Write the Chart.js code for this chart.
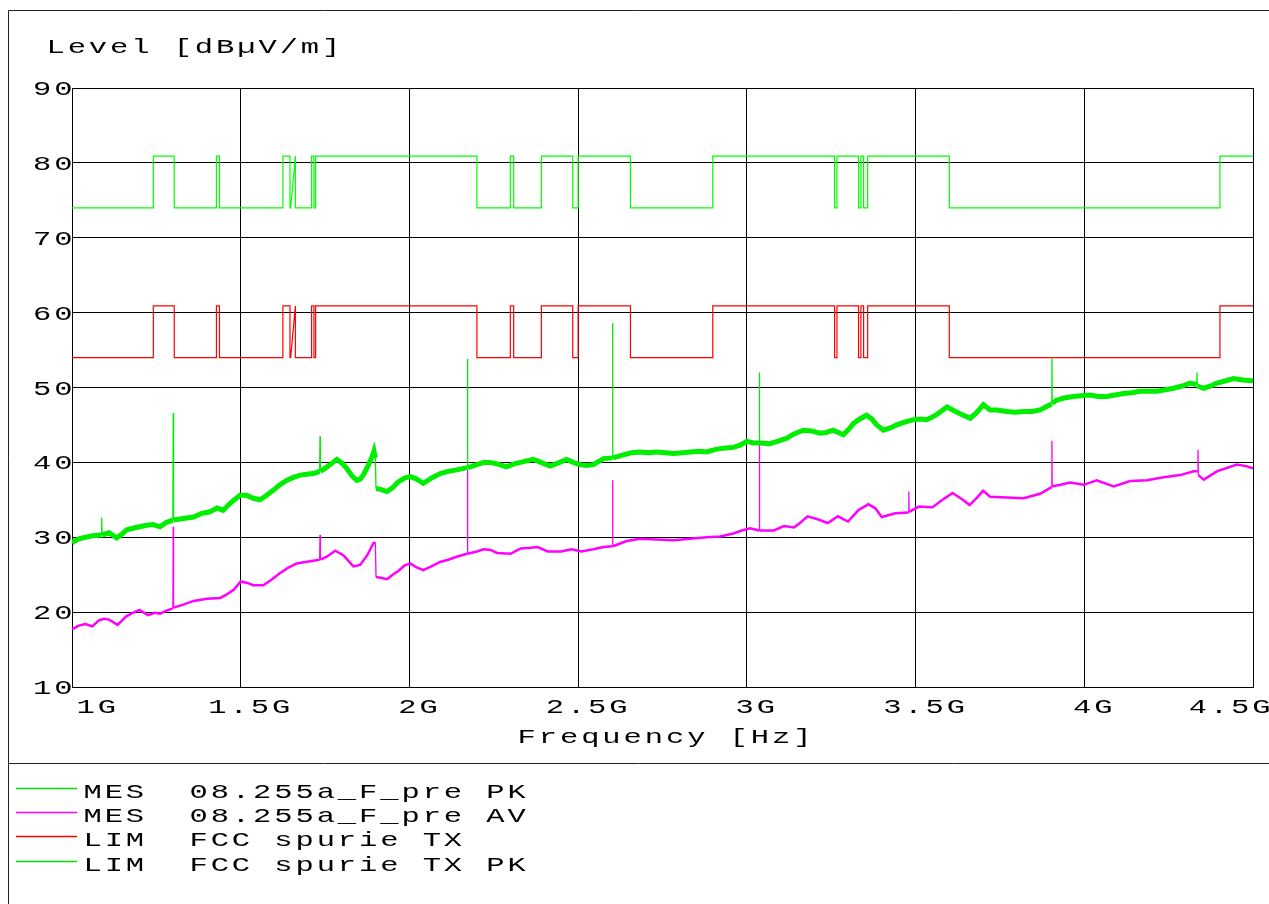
<!DOCTYPE html>
<html>
<head>
    <script src="https://cdn.jsdelivr.net/npm/chart.js"></script>
    <style>
        body { margin: 0; background: #fff; }
    </style>
</head>
<body>
    <canvas id="emiChart" width="1269" height="904"></canvas>

    <script>
        // tick labels
        const freqTickLabels = ['1G', '1.5G', '2G', '2.5G', '3G', '3.5G', '4G', '4.5G'];
        const levelTickLabels = ['10', '20', '30', '40', '50', '60', '70', '80', '90'];

        // MES PK trace (GHz / dBuV/m)
        const pkFreq = [1.000, 1.004, 1.02, 1.04, 1.06, 1.087, 1.088, 1.089, 1.11, 1.132, 1.15, 1.162, 1.19, 1.221, 1.24, 1.261, 1.28, 1.299, 1.300, 1.301,
            1.33, 1.36, 1.385, 1.409, 1.43, 1.448, 1.47, 1.498, 1.517, 1.537, 1.557, 1.577, 1.597, 1.616, 1.636, 1.656, 1.676, 1.695, 1.715, 1.734, 1.735, 1.736,
            1.75, 1.765, 1.785, 1.80, 1.814, 1.83, 1.844, 1.855, 1.863, 1.878, 1.89, 1.895, 1.899, 1.901, 1.915, 1.933, 1.95, 1.967, 1.985, 2.002, 2.02, 2.041,
            2.065, 2.091, 2.115, 2.14, 2.171, 2.172, 2.173, 2.2, 2.22, 2.239, 2.26, 2.288, 2.31, 2.338, 2.367, 2.39, 2.417, 2.44, 2.466, 2.485, 2.506, 2.525,
            2.545, 2.575, 2.601, 2.602, 2.603, 2.634, 2.66, 2.683, 2.71, 2.733, 2.76, 2.782, 2.81, 2.832, 2.86, 2.881, 2.905, 2.93, 2.96, 2.98, 3.0, 3.02,
            3.036, 3.037, 3.038, 3.068, 3.09, 3.117, 3.14, 3.167, 3.19, 3.217, 3.235, 3.256, 3.286, 3.30, 3.316, 3.335, 3.355, 3.37, 3.385, 3.405, 3.425, 3.444,
            3.47, 3.494, 3.515, 3.533, 3.56, 3.593, 3.61, 3.632, 3.662, 3.68, 3.701, 3.721, 3.741, 3.77, 3.795, 3.82, 3.845, 3.869, 3.89, 3.903, 3.904, 3.905,
            3.918, 3.94, 3.968, 3.99, 4.018, 4.04, 4.067, 4.09, 4.117, 4.14, 4.166, 4.19, 4.216, 4.24, 4.265, 4.29, 4.314, 4.333, 4.334, 4.335, 4.354, 4.375,
            4.393, 4.42, 4.442, 4.47, 4.497, 4.5];
        const pkLevel = [29.2, 29.4, 29.8, 30.0, 30.2, 30.3, 32.6, 30.3, 30.6, 29.9, 30.5, 31.0, 31.3, 31.6, 31.7, 31.4, 32.0, 32.3, 46.6, 32.3,
            32.5, 32.7, 33.2, 33.4, 33.9, 33.6, 34.6, 35.6, 35.6, 35.2, 35.0, 35.6, 36.3, 37.0, 37.6, 38.0, 38.3, 38.4, 38.5, 38.8, 43.5, 38.8,
            39.2, 39.7, 40.4, 39.9, 39.2, 38.2, 37.6, 37.8, 38.3, 39.6, 40.8, 41.5, 40.6, 36.5, 36.4, 36.1, 36.6, 37.4, 37.9, 38.1, 37.8, 37.2,
            37.9, 38.5, 38.8, 39.0, 39.3, 53.8, 39.3, 39.7, 40.0, 40.0, 39.8, 39.4, 39.8, 40.1, 40.4, 40.0, 39.5, 39.9, 40.4, 40.0, 39.7, 39.6,
            39.7, 40.5, 40.6, 58.6, 40.6, 41.0, 41.3, 41.4, 41.3, 41.4, 41.3, 41.2, 41.3, 41.4, 41.5, 41.4, 41.7, 41.9, 42.0, 42.3, 42.8, 42.6,
            42.6, 52.0, 42.6, 42.5, 42.8, 43.2, 43.8, 44.3, 44.2, 43.9, 44.0, 44.3, 43.7, 44.3, 45.2, 45.8, 46.3, 45.8, 45.0, 44.3, 44.6, 45.0,
            45.4, 45.7, 45.8, 45.7, 46.3, 47.4, 47.0, 46.5, 45.9, 46.6, 47.7, 47.0, 47.0, 46.8, 46.7, 46.8, 46.8, 47.0, 47.5, 47.8, 54.0, 47.9,
            48.3, 48.6, 48.8, 48.9, 49.0, 48.8, 48.8, 49.0, 49.2, 49.3, 49.5, 49.5, 49.5, 49.7, 49.9, 50.2, 50.6, 50.4, 52.0, 50.2, 49.9, 50.2,
            50.6, 50.9, 51.2, 51.0, 50.9, 50.9];

        // MES AV trace
        const avFreq = [1.000, 1.004, 1.02, 1.04, 1.06, 1.08, 1.095, 1.11, 1.135, 1.16, 1.18, 1.2, 1.225, 1.245, 1.261, 1.28, 1.299, 1.300, 1.301,
            1.33, 1.36, 1.40, 1.44, 1.46, 1.48, 1.50, 1.52, 1.537, 1.567, 1.59, 1.616, 1.64, 1.666, 1.705, 1.734, 1.735, 1.736,
            1.755, 1.78, 1.804, 1.82, 1.834, 1.854, 1.875, 1.893, 1.899, 1.901, 1.915, 1.934, 1.95, 1.967, 1.985, 2.002, 2.02, 2.041,
            2.065, 2.091, 2.115, 2.14, 2.171, 2.172, 2.173, 2.2, 2.22, 2.24, 2.26, 2.30, 2.33, 2.36, 2.38, 2.41, 2.45, 2.48, 2.51,
            2.545, 2.575, 2.601, 2.602, 2.603, 2.644, 2.683, 2.733, 2.782, 2.832, 2.881, 2.921, 2.96, 2.985, 3.01, 3.036, 3.037, 3.038,
            3.08, 3.11, 3.14, 3.16, 3.18, 3.21, 3.24, 3.27, 3.30, 3.33, 3.36, 3.38, 3.40, 3.44, 3.479, 3.48, 3.481, 3.51, 3.55, 3.58,
            3.61, 3.64, 3.66, 3.68, 3.70, 3.721, 3.77, 3.82, 3.869, 3.903, 3.904, 3.905, 3.93, 3.958, 3.998, 4.037, 4.087, 4.136,
            4.186, 4.235, 4.284, 4.324, 4.336, 4.337, 4.338, 4.354, 4.393, 4.452, 4.48, 4.5];
        const avLevel = [17.7, 17.8, 18.2, 18.4, 18.1, 18.9, 19.1, 19.0, 18.3, 19.4, 19.9, 20.3, 19.6, 19.9, 19.8, 20.2, 20.5, 31.4, 20.6,
            21.0, 21.5, 21.8, 21.9, 22.4, 23.0, 24.1, 23.9, 23.6, 23.6, 24.3, 25.2, 25.9, 26.5, 26.8, 27.0, 30.3, 27.0,
            27.4, 28.2, 27.6, 26.8, 26.1, 26.3, 27.6, 29.2, 29.3, 24.7, 24.6, 24.4, 25.0, 25.5, 26.2, 26.5, 26.0, 25.6,
            26.1, 26.7, 27.0, 27.4, 27.8, 39.0, 27.8, 28.1, 28.4, 28.3, 27.9, 27.8, 28.5, 28.6, 28.7, 28.1, 28.1, 28.4, 28.1,
            28.4, 28.7, 28.8, 37.6, 28.8, 29.5, 29.8, 29.7, 29.6, 29.8, 30.0, 30.1, 30.5, 30.9, 31.2, 30.9, 42.5, 30.9,
            30.9, 31.5, 31.3, 32.0, 32.8, 32.4, 31.9, 32.8, 32.1, 33.6, 34.4, 33.9, 32.7, 33.2, 33.3, 36.1, 33.4, 34.1, 34.0, 35.0,
            35.9, 35.0, 34.3, 35.2, 36.2, 35.4, 35.3, 35.2, 35.8, 36.7, 42.9, 36.8, 37.0, 37.3, 37.0, 37.6, 36.8, 37.5,
            37.6, 38.0, 38.3, 38.8, 38.8, 41.7, 38.3, 37.7, 38.8, 39.7, 39.5, 39.2];

        // limit lines share the same break frequencies
        const limFreq = [1.0, 1.241, 1.241, 1.303, 1.303, 1.428, 1.428, 1.437, 1.437, 1.625, 1.625, 1.646, 1.646, 1.648, 1.662, 1.662,
            1.710, 1.710, 1.717, 1.717, 1.722, 1.722, 2.200, 2.200, 2.299, 2.299, 2.309, 2.309, 2.391, 2.391, 2.484, 2.484,
            2.500, 2.500, 2.655, 2.655, 2.899, 2.899, 3.260, 3.260, 3.267, 3.267, 3.331, 3.331, 3.338, 3.338, 3.346, 3.346,
            3.358, 3.358, 3.600, 3.600, 4.402, 4.402, 4.5];
        const limTx = [54, 54, 60.9, 60.9, 54, 54, 60.9, 60.9, 54, 54, 60.9, 60.9, 54, 54, 60.9, 54,
            54, 60.9, 60.9, 54, 54, 60.9, 60.9, 54, 54, 60.9, 60.9, 54, 54, 60.9, 60.9, 54,
            54, 60.9, 60.9, 54, 54, 60.9, 60.9, 54, 54, 60.9, 60.9, 54, 54, 60.9, 60.9, 54,
            54, 60.9, 60.9, 54, 54, 60.9, 60.9];
        const limTxPk = [74, 74, 80.9, 80.9, 74, 74, 80.9, 80.9, 74, 74, 80.9, 80.9, 74, 74, 80.9, 74,
            74, 80.9, 80.9, 74, 74, 80.9, 80.9, 74, 74, 80.9, 80.9, 74, 74, 80.9, 80.9, 74,
            74, 80.9, 80.9, 74, 74, 80.9, 80.9, 74, 74, 80.9, 80.9, 74, 74, 80.9, 80.9, 74,
            74, 80.9, 80.9, 74, 74, 80.9, 80.9];

        function pts(xs, ys) {
            return xs.map((x, i) => ({ x: x, y: ys[i] }));
        }

        // thin line for the narrow spikes, thick band elsewhere
        function spikeWidth(thick) {
            return ctx => {
                const dx = Math.abs(ctx.p1.parsed.x - ctx.p0.parsed.x);
                const dy = Math.abs(ctx.p1.parsed.y - ctx.p0.parsed.y);
                return (dx < 0.004 && dy > 1.5) ? 1.3 : thick;
            };
        }

        // wide courier-ish text, one cell per char
        const CELL = 21.2;
        function drawMono(ctx, str, x, y, align) {
            const w = str.length * CELL;
            let x0 = x;
            if (align === 'right') x0 = x - w;
            if (align === 'center') x0 = x - w / 2;
            ctx.save();
            ctx.font = '21px "Liberation Mono"';
            ctx.fillStyle = '#000';
            ctx.textAlign = 'center';
            ctx.textBaseline = 'alphabetic';
            for (let i = 0; i < str.length; i++) {
                ctx.save();
                ctx.translate(x0 + CELL * (i + 0.5), y);
                ctx.scale(1.45, 1);
                ctx.fillText(str[i], 0, 0);
                ctx.restore();
            }
            ctx.restore();
        }

        const decor = {
            id: 'decor',
            afterDraw(chart) {
                const ctx = chart.ctx;
                const xs = chart.scales.x;
                const ys = chart.scales.y;

                // frame
                ctx.save();
                ctx.strokeStyle = '#222';
                ctx.lineWidth = 1;
                ctx.beginPath();
                ctx.moveTo(8.5, 904); ctx.lineTo(8.5, 10.5); ctx.lineTo(1269, 10.5);
                ctx.moveTo(8, 763.5); ctx.lineTo(1269, 763.5);
                ctx.stroke();
                ctx.restore();

                drawMono(ctx, 'Level [dB\u00b5V/m]', 45, 53, 'left');
                drawMono(ctx, 'Frequency [Hz]', (chart.chartArea.left + chart.chartArea.right) / 2 + 2, 743, 'center');

                ys.ticks.forEach((t, i) => {
                    const py = ys.getPixelForValue(t.value);
                    drawMono(ctx, levelTickLabels[i], 74, py + 7, 'right');
                });

                const n = xs.ticks.length;
                xs.ticks.forEach((t, i) => {
                    const px = xs.getPixelForValue(t.value);
                    const label = freqTickLabels[i];
                    if (i === 0) drawMono(ctx, label, px + 3, 713, 'left');
                    else if (i === n - 1) drawMono(ctx, label, 1272, 713, 'right');
                    else drawMono(ctx, label, px + 8.5, 713, 'center');
                });

                // legend
                chart.data.datasets.forEach((ds, i) => {
                    const ly = Math.round(787.5 + i * 24.4) + 0.5;
                    ctx.save();
                    ctx.strokeStyle = ds.legendColor;
                    ctx.lineWidth = 1.5;
                    ctx.beginPath();
                    ctx.moveTo(16, ly);
                    ctx.lineTo(77, ly);
                    ctx.stroke();
                    ctx.restore();
                    drawMono(ctx, ds.label, 82, ly + 9.5, 'left');
                });
            }
        };

        const config = {
            type: 'line',
            data: {
                datasets: [{
                    label: 'MES  08.255a_F_pre PK',
                    data: pts(pkFreq, pkLevel),
                    borderColor: 'rgb(0, 238, 0)',
                    legendColor: '#00e000',
                    borderWidth: 5,
                    segment: { borderWidth: spikeWidth(5) },
                }, {
                    label: 'MES  08.255a_F_pre AV',
                    data: pts(avFreq, avLevel),
                    borderColor: 'rgb(255, 0, 255)',
                    legendColor: '#ff00ff',
                    borderWidth: 2.5,
                    segment: { borderWidth: spikeWidth(2.5) },
                }, {
                    label: 'LIM  FCC spurie TX',
                    data: pts(limFreq, limTx),
                    borderColor: 'rgb(255, 0, 0)',
                    legendColor: '#ff0000',
                    borderWidth: 1.2,
                }, {
                    label: 'LIM  FCC spurie TX PK',
                    data: pts(limFreq, limTxPk),
                    borderColor: 'rgb(0, 255, 0)',
                    legendColor: '#00e000',
                    borderWidth: 1.2,
                }]
            },
            options: {
                responsive: false,
                animation: false,
                devicePixelRatio: 1,
                layout: { padding: { top: 88, right: 16, left: 0, bottom: 0 } },
                elements: { point: { radius: 0 }, line: { tension: 0 } },
                plugins: { legend: { display: false }, tooltip: { enabled: false } },
                scales: {
                    x: {
                        type: 'linear',
                        min: 1, max: 4.5,
                        ticks: { stepSize: 0.5, display: false },
                        grid: { color: '#000', lineWidth: 1, drawTicks: false },
                        border: { color: '#000' },
                        afterFit(s) { s.height = 217; }
                    },
                    y: {
                        min: 10, max: 90,
                        ticks: { stepSize: 10, display: false },
                        grid: { color: '#000', lineWidth: 1, drawTicks: false },
                        border: { color: '#000' },
                        afterFit(s) { s.width = 72; }
                    }
                }
            },
            plugins: [decor]
        };

        new Chart(document.getElementById('emiChart'), config);
    </script>
</body>
</html>
